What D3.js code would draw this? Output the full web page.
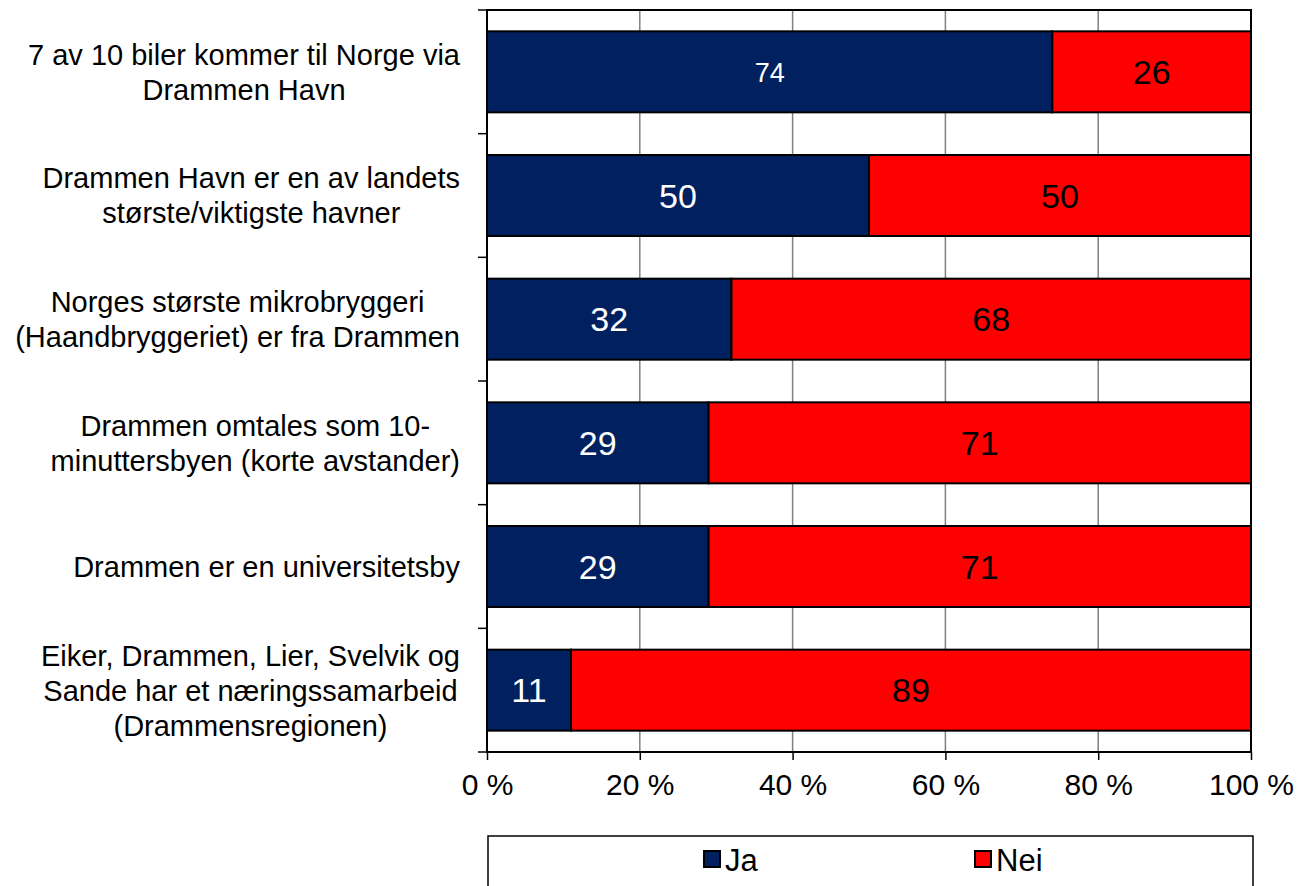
<!DOCTYPE html>
<html>
<head>
<meta charset="utf-8">
<script src="https://cdn.jsdelivr.net/npm/d3@7"></script>
<style>
  body { margin: 0; background: #fff; }
  svg { display: block; font-family: "Liberation Sans", Arial, sans-serif; }
</style>
</head>
<body>
<div id="vis1"></div>
<script>
const FRAME_WIDTH = 1299;
const FRAME_HEIGHT = 886;
const PLOT = {left: 487, right: 1251, top: 10, bottom: 752};

// data
const categories = [
  ["7 av 10 biler kommer til Norge via", "Drammen Havn"],
  ["Drammen Havn er en av landets", "største/viktigste havner"],
  ["Norges største mikrobryggeri", "(Haandbryggeriet) er fra Drammen"],
  ["Drammen omtales som 10-", "minuttersbyen (korte avstander)"],
  ["Drammen er en universitetsby"],
  ["Eiker, Drammen, Lier, Svelvik og", "Sande har et næringssamarbeid", "(Drammensregionen)"]
];
const jaValues = [74, 50, 32, 29, 29, 11];
const neiValues = [26, 50, 68, 71, 71, 89];
const seriesNames = ["Ja", "Nei"];
const seriesColors = ["#002060", "#FF0000"];
const tickValues = [0, 20, 40, 60, 80, 100];

const FRAME1 = d3.select("#vis1")
  .append("svg")
    .attr("width", FRAME_WIDTH)
    .attr("height", FRAME_HEIGHT);

const X_SCALE = d3.scaleLinear().domain([0, 100]).range([PLOT.left, PLOT.right]);
const Y_SCALE = d3.scaleBand()
  .domain(d3.range(categories.length))
  .range([PLOT.top, PLOT.bottom])
  .paddingInner(0.345)
  .paddingOuter(0.1725);

// gridlines
FRAME1.append("g")
  .selectAll("line")
  .data(tickValues.slice(1, -1))
  .enter()
  .append("line")
    .attr("x1", d => X_SCALE(d)).attr("x2", d => X_SCALE(d))
    .attr("y1", PLOT.top).attr("y2", PLOT.bottom)
    .attr("stroke", "#808080")
    .attr("stroke-width", 1.5);

// stacked bars
const rows = categories.map((c, i) => ({i: i, ja: jaValues[i], nei: neiValues[i]}));
const stack = d3.stack().keys(["ja", "nei"])(rows);

stack.forEach((layer, k) => {
  const g = FRAME1.append("g");
  g.selectAll("rect")
    .data(layer)
    .enter()
    .append("rect")
      .attr("x", d => X_SCALE(d[0]))
      .attr("y", d => Y_SCALE(d.data.i))
      .attr("width", d => X_SCALE(d[1]) - X_SCALE(d[0]))
      .attr("height", Y_SCALE.bandwidth())
      .attr("fill", seriesColors[k])
      .attr("stroke", "#000")
      .attr("stroke-width", 2);

  g.selectAll("text")
    .data(layer)
    .enter()
    .append("text")
      .attr("x", d => (X_SCALE(d[0]) + X_SCALE(d[1])) / 2)
      .attr("y", d => Y_SCALE(d.data.i) + Y_SCALE.bandwidth() / 2)
      .attr("dy", "0.36em")
      .attr("text-anchor", "middle")
      .attr("font-size", d => (k === 0 && d.data.i === 0) ? "27px" : "34px")
      .attr("fill", k === 0 ? "#fff" : "#000")
      .text(d => d[1] - d[0]);
});

// plot border
FRAME1.append("rect")
  .attr("x", PLOT.left).attr("y", PLOT.top)
  .attr("width", PLOT.right - PLOT.left)
  .attr("height", PLOT.bottom - PLOT.top)
  .attr("fill", "none")
  .attr("stroke", "#000")
  .attr("stroke-width", 2);

// left ticks at band boundaries
const bandEdges = d3.range(categories.length + 1).map(i => PLOT.top + i * Y_SCALE.step());
FRAME1.append("g")
  .selectAll("line")
  .data(bandEdges)
  .enter()
  .append("line")
    .attr("x1", PLOT.left - 9).attr("x2", PLOT.left)
    .attr("y1", d => d).attr("y2", d => d)
    .attr("stroke", "#000").attr("stroke-width", 1.5);

// x axis
const xAxis = FRAME1.append("g")
  .attr("transform", "translate(0," + PLOT.bottom + ")")
  .call(d3.axisBottom(X_SCALE).tickValues(tickValues).tickSize(8).tickPadding(14)
    .tickFormat(d => d + " %"));
xAxis.select(".domain").remove();
xAxis.selectAll("line").attr("stroke", "#000").attr("stroke-width", 1.5);
xAxis.selectAll("text")
  .attr("font-family", "'Liberation Sans', Arial, sans-serif")
  .attr("font-size", "30px")
  .attr("fill", "#000");

// category labels
const LINE_H = 35;
categories.forEach((lines, i) => {
  const cy = Y_SCALE(i) + Y_SCALE.bandwidth() / 2;
  const t = FRAME1.append("text")
    .attr("font-size", "29px")
    .attr("text-anchor", "middle")
    .attr("fill", "#000");
  lines.forEach((ln, j) => {
    t.append("tspan")
      .attr("y", cy + (j - (lines.length - 1) / 2) * LINE_H)
      .attr("dy", "0.36em")
      .text(ln);
  });
  let maxW = 0;
  t.selectAll("tspan").each(function () {
    maxW = Math.max(maxW, this.getComputedTextLength());
  });
  t.selectAll("tspan").attr("x", 460 - maxW / 2);
});

// legend
FRAME1.append("rect")
  .attr("x", 488).attr("y", 836)
  .attr("width", 765).attr("height", 80)
  .attr("fill", "#fff")
  .attr("stroke", "#000")
  .attr("stroke-width", 1.5);

const legendX = [704, 975];
seriesNames.forEach((name, k) => {
  FRAME1.append("rect")
    .attr("x", legendX[k]).attr("y", 851)
    .attr("width", 16).attr("height", 16)
    .attr("fill", seriesColors[k])
    .attr("stroke", "#000")
    .attr("stroke-width", 2);
  FRAME1.append("text")
    .attr("x", legendX[k] + 21)
    .attr("y", 871)
    .attr("font-size", "31px")
    .attr("fill", "#000")
    .text(name);
});
</script>
</body>
</html>
